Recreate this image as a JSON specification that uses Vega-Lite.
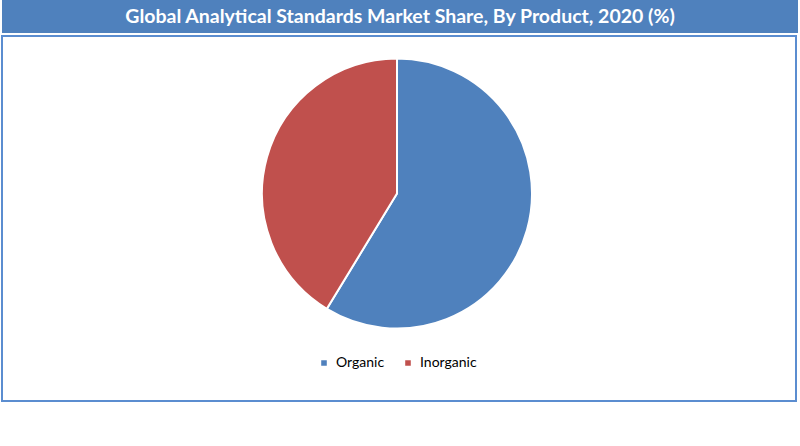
{
  "$schema": "https://vega.github.io/schema/vega-lite/v6.json",
  "background": "white",
  "padding": {"left": 1, "top": 0, "right": 3, "bottom": 44},
  "config": {"concat": {"spacing": 2}},
  "vconcat": [
    {
      "width": 796,
      "height": 33,
      "view": {"fill": "#4F81BD", "stroke": null},
      "data": {"values": [{"label": "Global Analytical Standards Market Share, By Product, 2020 (%)"}]},
      "mark": {"type": "text", "color": "white", "font": "Lato", "fontWeight": "bold", "fontSize": 19.5, "baseline": "middle", "align": "center"},
      "encoding": {"text": {"field": "label"}}
    },
    {
      "width": 794,
      "height": 365,
      "view": {"fill": "white", "stroke": "#5B8DD0", "strokeWidth": 2},
      "data": {"values": [
        {"product": "Organic", "share": 58.7},
        {"product": "Inorganic", "share": 41.3}
      ]},
      "mark": {"type": "arc", "radius": 135, "stroke": "white", "strokeWidth": 2, "yOffset": -25, "xOffset": -2},
      "encoding": {
        "theta": {"field": "share", "type": "quantitative", "stack": true},
        "order": {"field": "share", "sort": "descending"},
        "color": {
          "field": "product",
          "type": "nominal",
          "scale": {"domain": ["Organic", "Inorganic"], "range": ["#4F81BD", "#C0504D"]},
          "legend": {
            "title": null,
            "orient": "none",
            "direction": "horizontal",
            "legendX": 315,
            "legendY": 356,
            "symbolType": "square",
            "symbolSize": 50,
            "labelFont": "Lato",
            "labelFontSize": 14,
            "labelColor": "black",
            "columnPadding": 16,
            "labelOffset": 5
          }
        }
      }
    }
  ]
}
